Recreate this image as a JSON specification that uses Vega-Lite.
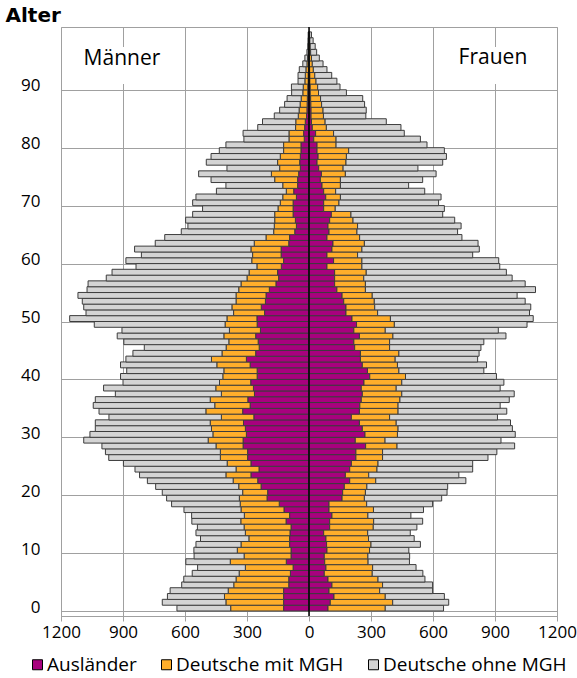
{
  "$schema": "https://vega.github.io/schema/vega-lite/v6.json",
  "width": 496,
  "height": 589,
  "autosize": "none",
  "padding": {"left": 61, "top": 27, "right": 20, "bottom": 62},
  "background": "white",
  "config": {
    "font": "Open Sans",
    "view": {"stroke": "#a0a0a0", "strokeWidth": 1},
    "axis": {"labelFont": "Open Sans", "labelColor": "black", "gridColor": "#a0a0a0", "gridWidth": 1, "gridOpacity": 1},
    "legend": {"labelFont": "Open Sans", "labelColor": "black"}
  },
  "datasets": {
    "maenner": [
      {"Alter":0,"Ausländer":-123,"Deutsche mit MGH":-256,"Deutsche ohne MGH":-260},
      {"Alter":1,"Ausländer":-123,"Deutsche mit MGH":-279,"Deutsche ohne MGH":-308},
      {"Alter":2,"Ausländer":-123,"Deutsche mit MGH":-286,"Deutsche ohne MGH":-276},
      {"Alter":3,"Ausländer":-123,"Deutsche mit MGH":-268,"Deutsche ohne MGH":-281},
      {"Alter":4,"Ausländer":-98,"Deutsche mit MGH":-266,"Deutsche ohne MGH":-252},
      {"Alter":5,"Ausländer":-98,"Deutsche mit MGH":-255,"Deutsche ohne MGH":-253},
      {"Alter":6,"Ausländer":-90,"Deutsche mit MGH":-248,"Deutsche ohne MGH":-227},
      {"Alter":7,"Ausländer":-77,"Deutsche mit MGH":-231,"Deutsche ohne MGH":-231},
      {"Alter":8,"Ausländer":-110,"Deutsche mit MGH":-271,"Deutsche ohne MGH":-215},
      {"Alter":9,"Ausländer":-87,"Deutsche mit MGH":-227,"Deutsche ohne MGH":-242},
      {"Alter":10,"Ausländer":-87,"Deutsche mit MGH":-260,"Deutsche ohne MGH":-210},
      {"Alter":11,"Ausländer":-94,"Deutsche mit MGH":-235,"Deutsche ohne MGH":-218},
      {"Alter":12,"Ausländer":-94,"Deutsche mit MGH":-197,"Deutsche ohne MGH":-234},
      {"Alter":13,"Ausländer":-92,"Deutsche mit MGH":-216,"Deutsche ohne MGH":-239},
      {"Alter":14,"Ausländer":-87,"Deutsche mit MGH":-227,"Deutsche ohne MGH":-226},
      {"Alter":15,"Ausländer":-111,"Deutsche mit MGH":-219,"Deutsche ohne MGH":-237},
      {"Alter":16,"Ausländer":-94,"Deutsche mit MGH":-219,"Deutsche ohne MGH":-255},
      {"Alter":17,"Ausländer":-121,"Deutsche mit MGH":-208,"Deutsche ohne MGH":-276},
      {"Alter":18,"Ausländer":-144,"Deutsche mit MGH":-189,"Deutsche ohne MGH":-332},
      {"Alter":19,"Ausländer":-203,"Deutsche mit MGH":-134,"Deutsche ohne MGH":-352},
      {"Alter":20,"Ausländer":-200,"Deutsche mit MGH":-121,"Deutsche ohne MGH":-389},
      {"Alter":21,"Ausländer":-232,"Deutsche mit MGH":-108,"Deutsche ohne MGH":-402},
      {"Alter":22,"Ausländer":-248,"Deutsche mit MGH":-119,"Deutsche ohne MGH":-415},
      {"Alter":23,"Ausländer":-281,"Deutsche mit MGH":-121,"Deutsche ohne MGH":-418},
      {"Alter":24,"Ausländer":-242,"Deutsche mit MGH":-111,"Deutsche ohne MGH":-489},
      {"Alter":25,"Ausländer":-281,"Deutsche mit MGH":-115,"Deutsche ohne MGH":-502},
      {"Alter":26,"Ausländer":-297,"Deutsche mit MGH":-132,"Deutsche ohne MGH":-540},
      {"Alter":27,"Ausländer":-297,"Deutsche mit MGH":-132,"Deutsche ohne MGH":-556},
      {"Alter":28,"Ausländer":-319,"Deutsche mit MGH":-131,"Deutsche ohne MGH":-552},
      {"Alter":29,"Ausländer":-319,"Deutsche mit MGH":-169,"Deutsche ohne MGH":-602},
      {"Alter":30,"Ausländer":-303,"Deutsche mit MGH":-162,"Deutsche ohne MGH":-595},
      {"Alter":31,"Ausländer":-308,"Deutsche mit MGH":-164,"Deutsche ohne MGH":-562},
      {"Alter":32,"Ausländer":-317,"Deutsche mit MGH":-161,"Deutsche ohne MGH":-556},
      {"Alter":33,"Ausländer":-267,"Deutsche mit MGH":-157,"Deutsche ohne MGH":-544},
      {"Alter":34,"Ausländer":-321,"Deutsche mit MGH":-178,"Deutsche ohne MGH":-517},
      {"Alter":35,"Ausländer":-285,"Deutsche mit MGH":-171,"Deutsche ohne MGH":-588},
      {"Alter":36,"Ausländer":-296,"Deutsche mit MGH":-182,"Deutsche ohne MGH":-556},
      {"Alter":37,"Ausländer":-264,"Deutsche mit MGH":-160,"Deutsche ohne MGH":-513},
      {"Alter":38,"Ausländer":-269,"Deutsche mit MGH":-182,"Deutsche ohne MGH":-543},
      {"Alter":39,"Ausländer":-282,"Deutsche mit MGH":-151,"Deutsche ohne MGH":-467},
      {"Alter":40,"Ausländer":-251,"Deutsche mit MGH":-166,"Deutsche ohne MGH":-495},
      {"Alter":41,"Ausländer":-251,"Deutsche mit MGH":-161,"Deutsche ohne MGH":-470},
      {"Alter":42,"Ausländer":-285,"Deutsche mit MGH":-161,"Deutsche ohne MGH":-466},
      {"Alter":43,"Ausländer":-303,"Deutsche mit MGH":-169,"Deutsche ohne MGH":-414},
      {"Alter":44,"Ausländer":-258,"Deutsche mit MGH":-163,"Deutsche ohne MGH":-431},
      {"Alter":45,"Ausländer":-241,"Deutsche mit MGH":-160,"Deutsche ohne MGH":-396},
      {"Alter":46,"Ausländer":-246,"Deutsche mit MGH":-142,"Deutsche ohne MGH":-508},
      {"Alter":47,"Ausländer":-258,"Deutsche mit MGH":-154,"Deutsche ohne MGH":-516},
      {"Alter":48,"Ausländer":-235,"Deutsche mit MGH":-150,"Deutsche ohne MGH":-520},
      {"Alter":49,"Ausländer":-251,"Deutsche mit MGH":-155,"Deutsche ohne MGH":-633},
      {"Alter":50,"Ausländer":-252,"Deutsche mit MGH":-145,"Deutsche ohne MGH":-761},
      {"Alter":51,"Ausländer":-215,"Deutsche mit MGH":-150,"Deutsche ohne MGH":-714},
      {"Alter":52,"Ausländer":-231,"Deutsche mit MGH":-142,"Deutsche ohne MGH":-717},
      {"Alter":53,"Ausländer":-211,"Deutsche mit MGH":-142,"Deutsche ohne MGH":-744},
      {"Alter":54,"Ausländer":-208,"Deutsche mit MGH":-145,"Deutsche ohne MGH":-765},
      {"Alter":55,"Ausländer":-192,"Deutsche mit MGH":-148,"Deutsche ohne MGH":-734},
      {"Alter":56,"Ausländer":-160,"Deutsche mit MGH":-169,"Deutsche ohne MGH":-740},
      {"Alter":57,"Ausländer":-147,"Deutsche mit MGH":-153,"Deutsche ohne MGH":-681},
      {"Alter":58,"Ausländer":-152,"Deutsche mit MGH":-138,"Deutsche ohne MGH":-663},
      {"Alter":59,"Ausländer":-134,"Deutsche mit MGH":-118,"Deutsche ohne MGH":-585},
      {"Alter":60,"Ausländer":-123,"Deutsche mit MGH":-154,"Deutsche ohne MGH":-609},
      {"Alter":61,"Ausländer":-135,"Deutsche mit MGH":-138,"Deutsche ohne MGH":-538},
      {"Alter":62,"Ausländer":-135,"Deutsche mit MGH":-146,"Deutsche ohne MGH":-563},
      {"Alter":63,"Ausländer":-98,"Deutsche mit MGH":-167,"Deutsche ohne MGH":-479},
      {"Alter":64,"Ausländer":-94,"Deutsche mit MGH":-114,"Deutsche ohne MGH":-490},
      {"Alter":65,"Ausländer":-69,"Deutsche mit MGH":-102,"Deutsche ohne MGH":-447},
      {"Alter":66,"Ausländer":-61,"Deutsche mit MGH":-107,"Deutsche ohne MGH":-418},
      {"Alter":67,"Ausländer":-66,"Deutsche mit MGH":-100,"Deutsche ohne MGH":-431},
      {"Alter":68,"Ausländer":-77,"Deutsche mit MGH":-89,"Deutsche ohne MGH":-397},
      {"Alter":69,"Ausländer":-77,"Deutsche mit MGH":-73,"Deutsche ohne MGH":-365},
      {"Alter":70,"Ausländer":-77,"Deutsche mit MGH":-62,"Deutsche ohne MGH":-424},
      {"Alter":71,"Ausländer":-61,"Deutsche mit MGH":-66,"Deutsche ohne MGH":-420},
      {"Alter":72,"Ausländer":-74,"Deutsche mit MGH":-36,"Deutsche ohne MGH":-338},
      {"Alter":73,"Ausländer":-55,"Deutsche mit MGH":-72,"Deutsche ohne MGH":-275},
      {"Alter":74,"Ausländer":-55,"Deutsche mit MGH":-111,"Deutsche ohne MGH":-308},
      {"Alter":75,"Ausländer":-50,"Deutsche mit MGH":-132,"Deutsche ohne MGH":-352},
      {"Alter":76,"Ausländer":-42,"Deutsche mit MGH":-100,"Deutsche ohne MGH":-255},
      {"Alter":77,"Ausländer":-45,"Deutsche mit MGH":-107,"Deutsche ohne MGH":-345},
      {"Alter":78,"Ausländer":-42,"Deutsche mit MGH":-97,"Deutsche ohne MGH":-335},
      {"Alter":79,"Ausländer":-39,"Deutsche mit MGH":-84,"Deutsche ohne MGH":-311},
      {"Alter":80,"Ausländer":-39,"Deutsche mit MGH":-84,"Deutsche ohne MGH":-279},
      {"Alter":81,"Ausländer":-23,"Deutsche mit MGH":-74,"Deutsche ohne MGH":-218},
      {"Alter":82,"Ausländer":-26,"Deutsche mit MGH":-71,"Deutsche ohne MGH":-222},
      {"Alter":83,"Ausländer":-21,"Deutsche mit MGH":-44,"Deutsche ohne MGH":-183},
      {"Alter":84,"Ausländer":-18,"Deutsche mit MGH":-46,"Deutsche ohne MGH":-161},
      {"Alter":85,"Ausländer":-12,"Deutsche mit MGH":-40,"Deutsche ohne MGH":-116},
      {"Alter":86,"Ausländer":-10,"Deutsche mit MGH":-38,"Deutsche ohne MGH":-94},
      {"Alter":87,"Ausländer":-9,"Deutsche mit MGH":-34,"Deutsche ohne MGH":-75},
      {"Alter":88,"Ausländer":-8,"Deutsche mit MGH":-30,"Deutsche ohne MGH":-68},
      {"Alter":89,"Ausländer":-6,"Deutsche mit MGH":-24,"Deutsche ohne MGH":-54},
      {"Alter":90,"Ausländer":-6,"Deutsche mit MGH":-22,"Deutsche ohne MGH":-57},
      {"Alter":91,"Ausländer":-4,"Deutsche mit MGH":-16,"Deutsche ohne MGH":-33},
      {"Alter":92,"Ausländer":-4,"Deutsche mit MGH":-14,"Deutsche ohne MGH":-35},
      {"Alter":93,"Ausländer":-3,"Deutsche mit MGH":-12,"Deutsche ohne MGH":-32},
      {"Alter":94,"Ausländer":-2,"Deutsche mit MGH":-8,"Deutsche ohne MGH":-20},
      {"Alter":95,"Ausländer":-2,"Deutsche mit MGH":-5,"Deutsche ohne MGH":-13},
      {"Alter":96,"Ausländer":-1,"Deutsche mit MGH":-3,"Deutsche ohne MGH":-6},
      {"Alter":97,"Ausländer":-1,"Deutsche mit MGH":-2,"Deutsche ohne MGH":-3},
      {"Alter":98,"Ausländer":-1,"Deutsche mit MGH":-1,"Deutsche ohne MGH":-3},
      {"Alter":99,"Ausländer":-1,"Deutsche mit MGH":-1,"Deutsche ohne MGH":-2}
    ],
    "frauen": [
      {"Alter":0,"Ausländer":92,"Deutsche mit MGH":277,"Deutsche ohne MGH":282},
      {"Alter":1,"Ausländer":103,"Deutsche mit MGH":302,"Deutsche ohne MGH":271},
      {"Alter":2,"Ausländer":121,"Deutsche mit MGH":248,"Deutsche ohne MGH":286},
      {"Alter":3,"Ausländer":97,"Deutsche mit MGH":245,"Deutsche ohne MGH":256},
      {"Alter":4,"Ausländer":111,"Deutsche mit MGH":245,"Deutsche ohne MGH":242},
      {"Alter":5,"Ausländer":92,"Deutsche mit MGH":242,"Deutsche ohne MGH":227},
      {"Alter":6,"Ausländer":74,"Deutsche mit MGH":232,"Deutsche ohne MGH":245},
      {"Alter":7,"Ausländer":82,"Deutsche mit MGH":226,"Deutsche ohne MGH":210},
      {"Alter":8,"Ausländer":76,"Deutsche mit MGH":210,"Deutsche ohne MGH":200},
      {"Alter":9,"Ausländer":74,"Deutsche mit MGH":211,"Deutsche ohne MGH":202},
      {"Alter":10,"Ausländer":87,"Deutsche mit MGH":206,"Deutsche ohne MGH":190},
      {"Alter":11,"Ausländer":85,"Deutsche mit MGH":215,"Deutsche ohne MGH":239},
      {"Alter":12,"Ausländer":82,"Deutsche mit MGH":206,"Deutsche ohne MGH":221},
      {"Alter":13,"Ausländer":71,"Deutsche mit MGH":213,"Deutsche ohne MGH":206},
      {"Alter":14,"Ausländer":100,"Deutsche mit MGH":211,"Deutsche ohne MGH":211},
      {"Alter":15,"Ausländer":100,"Deutsche mit MGH":213,"Deutsche ohne MGH":237},
      {"Alter":16,"Ausländer":111,"Deutsche mit MGH":174,"Deutsche ohne MGH":208},
      {"Alter":17,"Ausländer":97,"Deutsche mit MGH":215,"Deutsche ohne MGH":242},
      {"Alter":18,"Ausländer":97,"Deutsche mit MGH":182,"Deutsche ohne MGH":319},
      {"Alter":19,"Ausländer":160,"Deutsche mit MGH":108,"Deutsche ohne MGH":374},
      {"Alter":20,"Ausländer":163,"Deutsche mit MGH":110,"Deutsche ohne MGH":395},
      {"Alter":21,"Ausländer":171,"Deutsche mit MGH":109,"Deutsche ohne MGH":391},
      {"Alter":22,"Ausländer":197,"Deutsche mit MGH":126,"Deutsche ohne MGH":436},
      {"Alter":23,"Ausländer":176,"Deutsche mit MGH":113,"Deutsche ohne MGH":436},
      {"Alter":24,"Ausländer":197,"Deutsche mit MGH":132,"Deutsche ohne MGH":463},
      {"Alter":25,"Ausländer":205,"Deutsche mit MGH":129,"Deutsche ohne MGH":458},
      {"Alter":26,"Ausländer":227,"Deutsche mit MGH":129,"Deutsche ohne MGH":510},
      {"Alter":27,"Ausländer":227,"Deutsche mit MGH":129,"Deutsche ohne MGH":553},
      {"Alter":28,"Ausländer":274,"Deutsche mit MGH":152,"Deutsche ohne MGH":569},
      {"Alter":29,"Ausländer":224,"Deutsche mit MGH":144,"Deutsche ohne MGH":561},
      {"Alter":30,"Ausländer":271,"Deutsche mit MGH":157,"Deutsche ohne MGH":570},
      {"Alter":31,"Ausländer":258,"Deutsche mit MGH":173,"Deutsche ohne MGH":553},
      {"Alter":32,"Ausländer":244,"Deutsche mit MGH":178,"Deutsche ohne MGH":553},
      {"Alter":33,"Ausländer":205,"Deutsche mit MGH":185,"Deutsche ohne MGH":522},
      {"Alter":34,"Ausländer":244,"Deutsche mit MGH":187,"Deutsche ohne MGH":526},
      {"Alter":35,"Ausländer":246,"Deutsche mit MGH":185,"Deutsche ohne MGH":494},
      {"Alter":36,"Ausländer":253,"Deutsche mit MGH":187,"Deutsche ohne MGH":529},
      {"Alter":37,"Ausländer":258,"Deutsche mit MGH":191,"Deutsche ohne MGH":544},
      {"Alter":38,"Ausländer":253,"Deutsche mit MGH":169,"Deutsche ohne MGH":503},
      {"Alter":39,"Ausländer":266,"Deutsche mit MGH":183,"Deutsche ohne MGH":494},
      {"Alter":40,"Ausländer":294,"Deutsche mit MGH":173,"Deutsche ohne MGH":440},
      {"Alter":41,"Ausländer":283,"Deutsche mit MGH":152,"Deutsche ohne MGH":411},
      {"Alter":42,"Ausländer":258,"Deutsche mit MGH":170,"Deutsche ohne MGH":431},
      {"Alter":43,"Ausländer":249,"Deutsche mit MGH":168,"Deutsche ohne MGH":399},
      {"Alter":44,"Ausländer":249,"Deutsche mit MGH":186,"Deutsche ohne MGH":388},
      {"Alter":45,"Ausländer":221,"Deutsche mit MGH":169,"Deutsche ohne MGH":442},
      {"Alter":46,"Ausländer":217,"Deutsche mit MGH":173,"Deutsche ohne MGH":456},
      {"Alter":47,"Ausländer":244,"Deutsche mit MGH":162,"Deutsche ohne MGH":547},
      {"Alter":48,"Ausländer":217,"Deutsche mit MGH":152,"Deutsche ohne MGH":547},
      {"Alter":49,"Ausländer":230,"Deutsche mit MGH":183,"Deutsche ohne MGH":642},
      {"Alter":50,"Ausländer":208,"Deutsche mit MGH":186,"Deutsche ohne MGH":691},
      {"Alter":51,"Ausländer":179,"Deutsche mit MGH":153,"Deutsche ohne MGH":735},
      {"Alter":52,"Ausländer":179,"Deutsche mit MGH":139,"Deutsche ohne MGH":755},
      {"Alter":53,"Ausländer":168,"Deutsche mit MGH":148,"Deutsche ohne MGH":730},
      {"Alter":54,"Ausländer":160,"Deutsche mit MGH":146,"Deutsche ohne MGH":701},
      {"Alter":55,"Ausländer":135,"Deutsche mit MGH":138,"Deutsche ohne MGH":823},
      {"Alter":56,"Ausländer":124,"Deutsche mit MGH":149,"Deutsche ohne MGH":773},
      {"Alter":57,"Ausländer":124,"Deutsche mit MGH":141,"Deutsche ohne MGH":718},
      {"Alter":58,"Ausländer":124,"Deutsche mit MGH":153,"Deutsche ohne MGH":678},
      {"Alter":59,"Ausländer":87,"Deutsche mit MGH":169,"Deutsche ohne MGH":667},
      {"Alter":60,"Ausländer":119,"Deutsche mit MGH":137,"Deutsche ohne MGH":662},
      {"Alter":61,"Ausländer":87,"Deutsche mit MGH":148,"Deutsche ohne MGH":557},
      {"Alter":62,"Ausländer":111,"Deutsche mit MGH":145,"Deutsche ohne MGH":568},
      {"Alter":63,"Ausländer":116,"Deutsche mit MGH":152,"Deutsche ohne MGH":550},
      {"Alter":64,"Ausländer":87,"Deutsche mit MGH":158,"Deutsche ohne MGH":495},
      {"Alter":65,"Ausländer":97,"Deutsche mit MGH":135,"Deutsche ohne MGH":487},
      {"Alter":66,"Ausländer":92,"Deutsche mit MGH":143,"Deutsche ohne MGH":501},
      {"Alter":67,"Ausländer":100,"Deutsche mit MGH":113,"Deutsche ohne MGH":492},
      {"Alter":68,"Ausländer":108,"Deutsche mit MGH":95,"Deutsche ohne MGH":444},
      {"Alter":69,"Ausländer":71,"Deutsche mit MGH":56,"Deutsche ohne MGH":528},
      {"Alter":70,"Ausländer":71,"Deutsche mit MGH":74,"Deutsche ohne MGH":482},
      {"Alter":71,"Ausländer":81,"Deutsche mit MGH":71,"Deutsche ohne MGH":487},
      {"Alter":72,"Ausländer":71,"Deutsche mit MGH":58,"Deutsche ohne MGH":431},
      {"Alter":73,"Ausländer":63,"Deutsche mit MGH":89,"Deutsche ohne MGH":330},
      {"Alter":74,"Ausländer":55,"Deutsche mit MGH":97,"Deutsche ohne MGH":398},
      {"Alter":75,"Ausländer":60,"Deutsche mit MGH":116,"Deutsche ohne MGH":439},
      {"Alter":76,"Ausländer":47,"Deutsche mit MGH":118,"Deutsche ohne MGH":362},
      {"Alter":77,"Ausländer":39,"Deutsche mit MGH":140,"Deutsche ohne MGH":468},
      {"Alter":78,"Ausländer":44,"Deutsche mit MGH":137,"Deutsche ohne MGH":484},
      {"Alter":79,"Ausländer":39,"Deutsche mit MGH":153,"Deutsche ohne MGH":463},
      {"Alter":80,"Ausländer":39,"Deutsche mit MGH":92,"Deutsche ohne MGH":440},
      {"Alter":81,"Ausländer":23,"Deutsche mit MGH":108,"Deutsche ohne MGH":408},
      {"Alter":82,"Ausländer":32,"Deutsche mit MGH":87,"Deutsche ohne MGH":342},
      {"Alter":83,"Ausländer":16,"Deutsche mit MGH":68,"Deutsche ohne MGH":361},
      {"Alter":84,"Ausländer":12,"Deutsche mit MGH":66,"Deutsche ohne MGH":296},
      {"Alter":85,"Ausländer":10,"Deutsche mit MGH":60,"Deutsche ohne MGH":205},
      {"Alter":86,"Ausländer":10,"Deutsche mit MGH":58,"Deutsche ohne MGH":209},
      {"Alter":87,"Ausländer":9,"Deutsche mit MGH":52,"Deutsche ohne MGH":208},
      {"Alter":88,"Ausländer":8,"Deutsche mit MGH":48,"Deutsche ohne MGH":204},
      {"Alter":89,"Ausländer":6,"Deutsche mit MGH":40,"Deutsche ohne MGH":135},
      {"Alter":90,"Ausländer":6,"Deutsche mit MGH":36,"Deutsche ohne MGH":108},
      {"Alter":91,"Ausländer":4,"Deutsche mit MGH":30,"Deutsche ohne MGH":101},
      {"Alter":92,"Ausländer":4,"Deutsche mit MGH":24,"Deutsche ohne MGH":82},
      {"Alter":93,"Ausländer":3,"Deutsche mit MGH":18,"Deutsche ohne MGH":66},
      {"Alter":94,"Ausländer":2,"Deutsche mit MGH":14,"Deutsche ohne MGH":52},
      {"Alter":95,"Ausländer":2,"Deutsche mit MGH":10,"Deutsche ohne MGH":38},
      {"Alter":96,"Ausländer":1,"Deutsche mit MGH":7,"Deutsche ohne MGH":29},
      {"Alter":97,"Ausländer":1,"Deutsche mit MGH":5,"Deutsche ohne MGH":24},
      {"Alter":98,"Ausländer":1,"Deutsche mit MGH":3,"Deutsche ohne MGH":16},
      {"Alter":99,"Ausländer":1,"Deutsche mit MGH":2,"Deutsche ohne MGH":9}
    ],
    "beschriftung": [
      {"Text": "Männer", "x": -905, "y": 95.4},
      {"Text": "Frauen", "x": 890, "y": 95.5}
    ]
  },
  "layer": [
    {
      "data": {"name": "beschriftung"},
      "mark": {"type": "rect", "fill": "white", "stroke": null},
      "encoding": {
        "x": {"datum": -960, "type": "quantitative", "scale": {"domain": [-1200, 1200], "nice": false}},
        "x2": {"datum": -840},
        "y": {"datum": 91.0, "type": "quantitative", "scale": {"domain": [0, 100], "nice": false}},
        "y2": {"datum": 97.4}
      }
    },
    {
      "data": {"name": "beschriftung"},
      "mark": {"type": "rect", "fill": "white", "stroke": null},
      "encoding": {
        "x": {"datum": 840, "type": "quantitative"},
        "x2": {"datum": 960},
        "y": {"datum": 91.0, "type": "quantitative"},
        "y2": {"datum": 97.4}
      }
    },
    {
      "data": {"name": "maenner"},
      "transform": [{"fold": ["Ausländer", "Deutsche mit MGH", "Deutsche ohne MGH"], "as": ["Gruppe", "Anzahl"]}],
      "mark": {"type": "bar", "orient": "horizontal", "size": 5.89, "yOffset": -2.945, "stroke": "#3c3c3c", "strokeWidth": 1},
      "encoding": {
        "y": {"field": "Alter", "type": "quantitative"},
        "x": {"field": "Anzahl", "type": "quantitative", "stack": "zero"},
        "color": {"field": "Gruppe", "type": "nominal"},
        "order": {"field": "Gruppe", "sort": "ascending"}
      }
    },
    {
      "data": {"name": "frauen"},
      "transform": [{"fold": ["Ausländer", "Deutsche mit MGH", "Deutsche ohne MGH"], "as": ["Gruppe", "Anzahl"]}],
      "mark": {"type": "bar", "orient": "horizontal", "size": 5.89, "yOffset": -2.945, "stroke": "#3c3c3c", "strokeWidth": 1},
      "encoding": {
        "y": {"field": "Alter", "type": "quantitative"},
        "x": {"field": "Anzahl", "type": "quantitative", "stack": "zero"},
        "color": {"field": "Gruppe", "type": "nominal"},
        "order": {"field": "Gruppe", "sort": "ascending"}
      }
    },
    {
      "data": {"values": [{}]},
      "mark": {"type": "rule", "color": "black", "strokeWidth": 1.5},
      "encoding": {"x": {"datum": 0, "type": "quantitative"}}
    },
    {
      "data": {"name": "beschriftung"},
      "mark": {"type": "text", "fontSize": 21, "font": "Open Sans", "color": "black", "align": "center", "baseline": "middle"},
      "encoding": {
        "x": {"field": "x", "type": "quantitative"},
        "y": {"field": "y", "type": "quantitative"},
        "text": {"field": "Text"}
      }
    }
  ],
  "resolve": {"scale": {"x": "shared", "y": "shared", "color": "shared"}},
  "encoding": {
    "x": {
      "type": "quantitative",
      "scale": {"domain": [-1200, 1200], "nice": false},
      "axis": {
        "values": [-1200, -900, -600, -300, 0, 300, 600, 900, 1200],
        "labelExpr": "format(abs(datum.value), 'd')",
        "title": null,
        "grid": true,
        "domainColor": "#a0a0a0",
        "tickColor": "#a0a0a0",
        "tickSize": 5,
        "labelFontSize": 17,
        "labelPadding": 3,
        "labelFlush": false
      }
    },
    "y": {
      "type": "quantitative",
      "scale": {"domain": [0, 100], "nice": false},
      "axis": {
        "values": [0, 10, 20, 30, 40, 50, 60, 70, 80, 90],
        "grid": true,
        "domain": false,
        "ticks": false,
        "labelPadding": 21,
        "labelFontSize": 17,
        "labelOffset": -4,
        "title": "Alter",
        "titleAngle": 0,
        "titleFont": "DejaVu Sans",
        "titleFontWeight": "bold",
        "titleFontSize": 20,
        "titleAlign": "left",
        "titleBaseline": "alphabetic",
        "titleX": -56,
        "titleY": -6
      }
    },
    "color": {
      "type": "nominal",
      "scale": {
        "domain": ["Ausländer", "Deutsche mit MGH", "Deutsche ohne MGH"],
        "range": ["#a8017e", "#ffae2b", "#d4d4d4"]
      },
      "legend": {
        "title": null,
        "orient": "none",
        "direction": "horizontal",
        "legendX": -33,
        "legendY": 628,
        "padding": 0,
        "symbolType": "square",
        "symbolSize": 100,
        "symbolStrokeColor": "black",
        "symbolStrokeWidth": 1,
        "symbolOpacity": 1,
        "labelFontSize": 19,
        "labelLimit": 0,
        "labelOffset": 0,
        "columnPadding": 20
      }
    }
  }
}
